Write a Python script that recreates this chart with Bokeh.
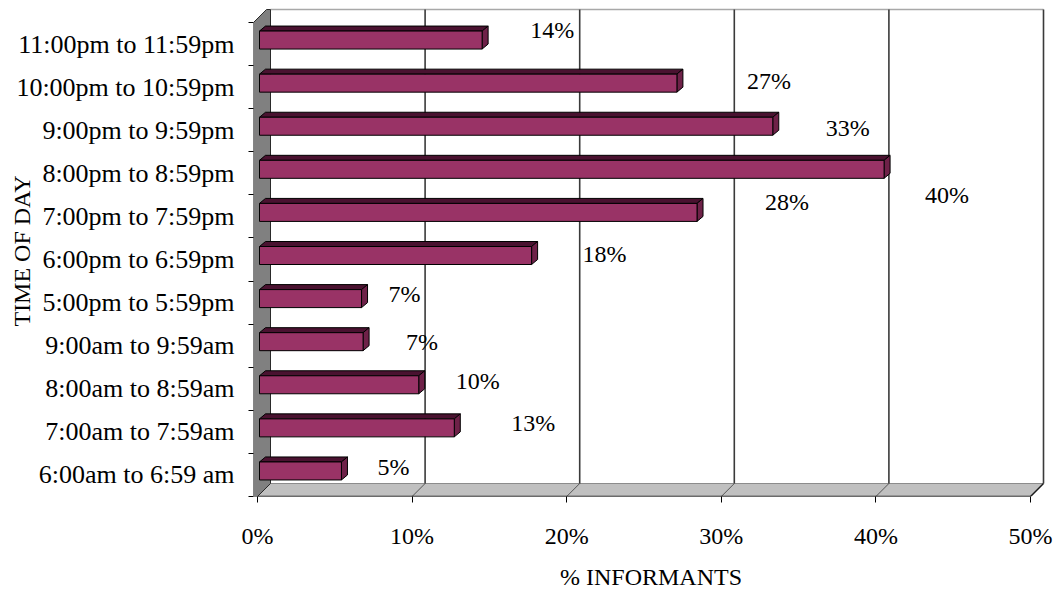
from bokeh.core.properties import value
from bokeh.embed import file_html
from bokeh.models import FixedTicker, Range1d
from bokeh.plotting import figure
from bokeh.resources import INLINE

# ---- data -------------------------------------------------------------
categories = [
    "6:00am to 6:59 am",
    "7:00am to 7:59am",
    "8:00am to 8:59am",
    "9:00am to 9:59am",
    "5:00pm to 5:59pm",
    "6:00pm to 6:59pm",
    "7:00pm to 7:59pm",
    "8:00pm to 8:59pm",
    "9:00pm to 9:59pm",
    "10:00pm to 10:59pm",
    "11:00pm to 11:59pm",
]
informants_pct = [5.3, 12.6, 10.3, 6.7, 6.6, 17.6, 28.3, 40.4, 33.2, 27.0, 14.4]
x_ticks = [0, 10, 20, 30, 40, 50]
x_tick_labels = ["0%", "10%", "20%", "30%", "40%", "50%"]

# ---- geometry / style -------------------------------------------------
PX_X = 15.46          # pixels per percentage point
PX_Y = 43.09          # pixels per category slot
DEPTH = (13, 13)      # oblique depth of the box (px right, px up)
WALL_T = 4            # thickness of the side wall (px)
BAR_SHIFT = (2, 4)    # bar front face offset inside the box (px)
BAR_HALF = 9          # half height of bar front face (px)
BAR_DEPTH = (6, 5)    # depth of the bars (px)

# data-label nudges in screen pixels (right, down)
label_dx = [54, 81, 61, 61, 45, 75, 92, 65, 77, 94, 72]
label_dy = [-8, -9, -8, -4, -9, -6, -14, 22, -2, -6, -14]

FONT = "Liberation Serif"
FS = "24px"
FS_CAT = "26px"
FRONT = "#993366"
TOP = "#4a1230"
SIDE = "#6e2148"

W, H = 1057, 593
LEFT, RIGHT, TOP_B, BOTTOM = 253, 9, 5, 97
X0_PX = 257           # pixel column of 0 %


def dx(px):
    return px / PX_X


def dy(px):
    return px / PX_Y


n = len(categories)
frame_w = W - LEFT - RIGHT
frame_h = H - TOP_B - BOTTOM
x_start = dx(LEFT - X0_PX)
x_end = x_start + dx(frame_w)
y_start = -0.5
y_end = y_start + dy(frame_h)

p = figure(
    width=W, height=H,
    x_range=Range1d(x_start, x_end), y_range=Range1d(y_start, y_end),
    output_backend="svg", toolbar_location=None,
    min_border_left=LEFT, min_border_right=RIGHT,
    min_border_top=TOP_B, min_border_bottom=BOTTOM,
)
p.outline_line_color = None
p.xgrid.visible = False
p.ygrid.visible = False
p.background_fill_color = "white"
p.border_fill_color = "white"

ddx, ddy = dx(DEPTH[0]), dy(DEPTH[1])
x_max = x_ticks[-1]
y_lo, y_hi = -0.5, n - 0.5

# floor
p.patch([0, x_max, x_max + ddx, ddx], [y_lo, y_lo, y_lo + ddy, y_lo + ddy],
        fill_color="#c0c0c0", line_color="#8c8c8c", line_width=1)
# floor gridlines
p.segment(x0=[t + ddx for t in x_ticks[1:-1]], y0=[y_lo + ddy] * (len(x_ticks) - 2),
          x1=x_ticks[1:-1], y1=[y_lo] * (len(x_ticks) - 2),
          line_color="#555555", line_width=1)
# floor front and right edges
p.segment(x0=[0, x_max], y0=[y_lo, y_lo], x1=[x_max, x_max + ddx], y1=[y_lo, y_lo + ddy],
          line_color="#1a1a1a", line_width=1.5)

# back wall top edge
p.segment(x0=[ddx], y0=[y_hi + ddy], x1=[x_max + ddx], y1=[y_hi + ddy],
          line_color="#a8a8a8", line_width=1.5)
# back-wall gridlines
p.segment(x0=[t + ddx for t in x_ticks[1:]], y0=[y_lo + ddy] * (len(x_ticks) - 1),
          x1=[t + ddx for t in x_ticks[1:]], y1=[y_hi + ddy] * (len(x_ticks) - 1),
          line_color="#3a3a3a", line_width=1.6)

# left side wall
wt = dx(WALL_T)
p.patch([-wt, -wt, ddx - wt, ddx, ddx, 0],
        [y_lo, y_hi, y_hi + ddy, y_hi + ddy, y_lo + ddy, y_lo],
        fill_color="#808080", line_color="#2a2a2a", line_width=1)

# bars
bx = dx(BAR_SHIFT[0])
by = dy(BAR_SHIFT[1])
bh = dy(BAR_HALF)
bdx, bdy = dx(BAR_DEPTH[0]), dy(BAR_DEPTH[1])
left = [bx] * n
right = [v + bx for v in informants_pct]
bottom = [i + by - bh for i in range(n)]
top = [i + by + bh for i in range(n)]

top_xs = [[l, r, r + bdx, l + bdx] for l, r in zip(left, right)]
top_ys = [[t, t, t + bdy, t + bdy] for t in top]
side_xs = [[r, r + bdx, r + bdx, r] for r in right]
side_ys = [[b, b + bdy, t + bdy, t] for b, t in zip(bottom, top)]

p.patches(top_xs, top_ys, fill_color=TOP, line_color="black", line_width=1)
p.patches(side_xs, side_ys, fill_color=SIDE, line_color="black", line_width=1)
p.quad(left=left, right=right, bottom=bottom, top=top,
       fill_color=FRONT, line_color="black", line_width=1)

# data labels
p.text(x=informants_pct, y=list(range(n)),
       text=[f"{v:.0f}%" for v in informants_pct],
       x_offset=label_dx, y_offset=label_dy,
       text_font=value(FONT), text_font_size=FS, text_color="black",
       text_align="center", text_baseline="middle")

# x axis
xa = p.xaxis[0]
xa.ticker = FixedTicker(ticks=x_ticks, minor_ticks=[])
xa.major_label_overrides = dict(zip(x_ticks, x_tick_labels))
xa.axis_line_color = None
xa.major_tick_in = 0
xa.major_tick_out = 6
xa.major_tick_line_color = "black"
xa.major_label_standoff = 20
xa.major_label_text_font = FONT
xa.major_label_text_font_size = FS
xa.major_label_text_color = "black"
xa.axis_label = "% INFORMANTS"
xa.axis_label_text_font = FONT
xa.axis_label_text_font_size = FS
xa.axis_label_text_font_style = "normal"
xa.axis_label_text_color = "black"
xa.axis_label_standoff = 12

# y axis: labels at category centres, ticks at category boundaries
ya = p.yaxis[0]
ya.ticker = FixedTicker(ticks=list(range(n)), minor_ticks=[k - 0.5 for k in range(n + 1)])
ya.major_label_overrides = dict(zip(range(n), categories))
ya.axis_line_color = None
ya.major_tick_in = 0
ya.major_tick_out = 0
ya.minor_tick_in = 0
ya.minor_tick_out = 5
ya.minor_tick_line_color = "black"
ya.major_label_standoff = 14
ya.major_label_text_font = FONT
ya.major_label_text_font_size = FS_CAT
ya.major_label_text_color = "black"
ya.axis_label = "TIME OF DAY"
ya.axis_label_text_font = FONT
ya.axis_label_text_font_size = FS
ya.axis_label_text_font_style = "normal"
ya.axis_label_text_color = "black"
ya.axis_label_standoff = -22

open("out.html", "w").write(file_html(p, INLINE))
